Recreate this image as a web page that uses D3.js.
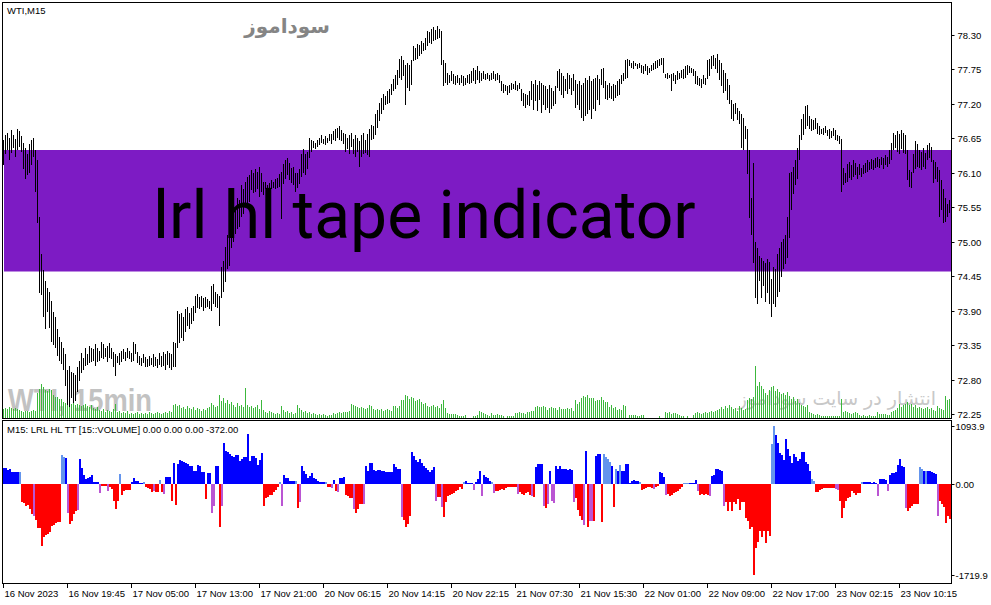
<!DOCTYPE html>
<html>
<head>
<meta charset="utf-8">
<script src="https://cdn.jsdelivr.net/npm/d3@7"></script>
<style>
  body { margin: 0; background: #fff; }
  text { font-family: "Liberation Sans", Arial, sans-serif; }
</style>
</head>
<body>
<div id="chart"></div>
<script>
// WTI M15 bars, one entry per 15 min bar (474 bars, 2px apart)
const highs = [
  76.62,76.70,76.74,76.66,76.78,76.70,76.64,76.80,76.76,76.68,
  76.58,76.50,76.40,76.56,76.62,76.66,76.46,76.30,75.40,74.80,
  74.55,74.38,74.26,74.20,74.05,73.88,73.80,73.60,73.48,73.40,
  73.30,73.20,72.95,73.02,72.92,72.90,72.88,73.00,73.10,73.22,
  73.14,73.30,73.20,73.34,73.30,73.28,73.36,73.30,73.26,73.40,
  73.36,73.30,73.34,73.38,73.30,73.24,73.20,73.18,73.22,73.26,
  73.28,73.24,73.30,73.26,73.22,73.40,73.36,73.24,73.18,73.14,
  73.20,73.16,73.12,73.18,73.14,73.20,73.16,73.12,73.22,73.18,
  73.24,73.20,73.26,73.22,73.20,73.40,73.38,73.90,73.84,73.86,
  73.80,73.92,73.96,73.86,73.94,73.98,74.14,74.16,74.12,74.14,
  74.10,74.12,74.08,74.06,74.30,74.32,74.20,74.16,74.14,74.60,
  74.70,74.92,75.10,75.26,75.50,75.60,75.50,75.70,75.66,75.90,
  75.84,75.96,76.04,76.06,76.14,76.10,76.16,76.12,76.20,76.10,
  75.96,75.96,75.90,75.94,75.98,75.96,76.00,76.02,76.08,76.12,
  76.24,76.30,76.34,76.26,76.18,76.20,76.10,76.10,76.16,76.40,
  76.48,76.40,76.44,76.66,76.62,76.60,76.58,76.62,76.66,76.70,
  76.64,76.68,76.66,76.72,76.72,76.76,76.80,76.82,76.84,76.78,
  76.74,76.72,76.66,76.70,76.74,76.64,76.70,76.66,76.60,76.70,
  76.74,76.62,76.72,76.80,76.86,76.84,77.04,77.10,77.22,77.30,
  77.36,77.32,77.40,77.44,77.52,77.60,77.66,77.74,77.92,77.96,
  77.90,77.82,77.86,77.82,77.90,78.12,78.10,78.16,78.14,78.20,
  78.18,78.26,78.36,78.34,78.40,78.42,78.38,78.44,78.40,78.36,
  77.90,77.86,77.70,77.66,77.72,77.68,77.64,77.66,77.62,77.66,
  77.64,77.62,77.66,77.68,77.72,77.78,77.74,77.80,77.72,77.70,
  77.72,77.68,77.70,77.66,77.70,77.72,77.68,77.70,77.66,77.56,
  77.52,77.50,77.48,77.50,77.54,77.52,77.56,77.50,77.54,77.44,
  77.38,77.36,77.34,77.40,77.56,77.52,77.58,77.50,77.56,77.54,
  77.50,77.48,77.44,77.50,77.46,77.40,77.48,77.72,77.76,77.70,
  77.64,77.60,77.70,77.66,77.62,77.68,77.58,77.52,77.56,77.50,
  77.54,77.62,77.58,77.64,77.56,77.60,77.62,77.66,77.60,77.76,
  77.78,77.56,77.50,77.54,77.48,77.52,77.50,77.56,77.60,77.66,
  77.70,77.90,77.92,77.90,77.86,77.88,77.86,77.84,77.86,77.82,
  77.80,77.84,77.80,77.78,77.82,77.86,77.88,77.90,77.92,77.94,
  77.94,77.68,77.70,77.66,77.68,77.70,77.66,77.72,77.70,77.74,
  77.76,77.80,77.82,77.80,77.78,77.76,77.72,77.64,77.62,77.60,
  77.66,77.62,77.90,77.92,77.96,77.98,77.94,78.00,77.90,77.86,
  77.74,77.70,77.60,77.50,77.26,77.20,77.22,77.14,77.08,77.04,
  76.98,76.84,76.80,76.46,75.70,76.26,75.00,74.90,74.78,74.74,
  74.70,74.66,74.72,74.68,74.40,74.60,74.56,74.80,74.90,75.00,
  75.04,75.10,75.40,76.10,76.12,76.20,76.30,76.50,76.70,76.96,
  77.04,77.16,77.18,77.00,76.96,76.94,76.98,76.90,76.84,76.80,
  76.82,76.84,76.78,76.80,76.76,76.82,76.78,76.70,76.68,76.64,
  76.18,76.10,76.24,76.28,76.22,76.30,76.26,76.20,76.24,76.18,
  76.22,76.26,76.30,76.28,76.32,76.30,76.34,76.36,76.32,76.36,
  76.34,76.38,76.36,76.46,76.58,76.74,76.70,76.76,76.72,76.78,
  76.74,76.70,76.46,76.14,76.12,76.40,76.60,76.56,76.46,76.44,
  76.50,76.42,76.54,76.58,76.52,76.30,76.28,76.20,76.14,75.98,
  75.84,75.70,75.60,75.66
];
const lows = [
  76.22,76.40,76.46,76.30,76.42,76.50,76.36,76.46,76.52,76.44,
  76.16,76.00,76.06,76.10,76.22,76.36,75.80,75.30,74.18,74.15,
  73.80,73.60,73.88,73.62,73.40,73.35,73.30,73.18,73.10,73.05,
  72.95,72.70,72.40,72.36,72.50,72.42,72.45,72.60,72.78,72.90,
  72.96,73.02,73.04,73.06,73.08,73.10,73.02,73.08,73.10,73.14,
  73.12,73.16,73.08,73.14,73.12,73.00,72.86,73.06,73.04,73.08,
  73.12,73.10,73.14,73.12,73.08,73.10,73.20,73.06,73.04,73.02,
  73.06,73.00,73.00,73.02,73.04,73.00,73.02,72.98,73.04,73.00,
  73.02,72.96,73.04,72.98,72.96,73.00,73.00,73.30,73.38,73.46,
  73.42,73.56,73.66,73.60,73.68,73.74,73.86,73.94,73.92,73.96,
  73.90,73.94,73.96,73.92,73.90,74.00,73.96,73.94,73.65,74.10,
  74.20,74.36,74.56,74.62,74.90,75.00,75.12,75.20,75.24,75.40,
  75.44,75.56,75.60,75.64,75.82,75.78,75.80,75.84,75.72,75.80,
  75.74,75.84,75.80,75.82,75.84,75.86,75.84,75.86,75.88,75.36,
  75.92,76.00,76.06,75.98,75.94,75.90,75.80,75.86,75.92,76.04,
  76.10,76.06,76.16,76.34,76.44,76.50,76.48,76.52,76.54,76.58,
  76.56,76.54,76.58,76.60,76.56,76.62,76.60,76.66,76.62,76.60,
  76.56,76.44,76.48,76.40,76.52,76.40,76.36,76.44,76.20,76.36,
  76.40,76.42,76.38,76.36,76.62,76.64,76.70,76.82,76.92,77.04,
  77.10,77.18,77.20,77.22,77.34,77.40,77.44,77.50,77.62,77.58,
  77.64,77.18,77.46,77.40,77.50,77.88,77.90,77.92,77.96,78.00,
  78.04,78.06,78.12,78.18,78.16,78.20,78.22,78.24,78.26,77.82,
  77.48,77.54,77.50,77.54,77.56,77.52,77.50,77.54,77.50,77.54,
  77.48,77.50,77.54,77.52,77.54,77.56,77.52,77.58,77.54,77.56,
  77.60,77.58,77.60,77.56,77.58,77.60,77.56,77.58,77.54,77.40,
  77.38,77.40,77.34,77.38,77.42,77.44,77.42,77.40,77.44,77.24,
  77.16,77.14,77.18,77.16,77.26,77.10,77.24,77.08,77.26,77.06,
  77.18,77.10,77.14,77.06,77.12,77.16,77.20,77.46,77.40,77.34,
  77.30,77.40,77.36,77.44,77.34,77.40,77.14,77.18,77.10,76.98,
  76.92,77.00,77.04,77.10,76.96,77.12,77.08,77.26,77.18,77.50,
  77.46,77.28,77.26,77.30,77.28,77.24,77.30,77.32,77.34,77.52,
  77.56,77.60,77.62,77.80,77.78,77.76,77.80,77.76,77.78,77.70,
  77.68,77.72,77.66,77.70,77.72,77.74,77.76,77.78,77.80,77.82,
  77.70,77.62,77.60,77.62,77.40,77.56,77.52,77.58,77.60,77.62,
  77.60,77.62,77.66,77.70,77.70,77.64,77.52,77.50,77.48,77.46,
  77.52,77.50,77.60,77.64,77.76,77.80,77.76,77.70,77.58,77.48,
  77.38,77.40,77.26,77.20,76.96,76.92,77.04,76.94,76.88,76.50,
  76.46,76.64,76.08,75.38,75.10,74.66,74.10,74.00,74.38,74.10,
  74.30,74.04,74.18,74.00,73.80,74.00,73.96,74.12,74.20,74.44,
  74.56,74.64,74.74,75.06,75.50,75.76,75.90,76.00,76.30,76.62,
  76.70,76.80,76.84,76.80,76.76,76.78,76.80,76.72,76.70,76.72,
  76.70,76.74,76.68,76.64,76.66,76.68,76.62,76.60,76.56,75.80,
  75.90,75.94,75.96,76.02,75.98,76.04,76.06,76.00,76.06,76.04,
  76.08,76.10,76.12,76.14,76.16,76.14,76.18,76.20,76.18,76.22,
  76.16,76.22,76.20,76.24,76.30,76.46,76.50,76.44,76.40,76.48,
  76.42,76.40,75.98,75.88,75.86,76.10,76.16,76.20,76.18,76.14,
  76.20,76.16,76.30,76.34,76.28,75.94,76.00,75.96,75.40,75.50,
  75.30,75.32,75.40,75.46
];
// tick volume per bar
const volumes = [
  520,560,480,600,540,500,580,520,460,380,
  340,360,400,320,360,420,380,1440,1680,1980,
  1800,1620,1560,1680,1620,1320,1200,1200,1080,1080,
  900,840,960,900,780,840,720,780,720,660,
  720,780,660,600,720,540,480,600,420,360,
  480,300,420,360,300,480,780,300,360,240,
  300,240,360,180,240,180,240,300,180,240,
  180,240,180,300,240,180,240,300,240,180,
  240,300,240,360,300,720,780,660,720,540,
  600,480,660,540,480,600,420,540,480,360,
  480,420,540,600,840,720,600,660,1320,960,
  1140,840,1020,780,900,720,600,840,660,720,
  600,1740,720,600,660,540,600,720,480,1020,
  420,300,240,360,300,240,180,240,180,660,
  420,300,360,240,300,180,240,720,540,420,
  300,360,240,300,180,240,180,120,180,120,
  180,120,60,120,120,240,180,240,300,240,
  300,300,300,360,780,720,660,600,540,600,
  540,480,540,720,660,480,420,480,420,480,
  360,420,480,420,360,660,660,540,660,1020,
  1020,1320,1260,1080,1200,1140,960,1020,1080,900,
  780,840,660,600,660,720,600,660,540,780,
  1020,540,240,180,180,180,180,120,60,60,
  60,120,0,0,0,60,60,120,360,300,
  240,180,120,60,240,120,120,180,120,120,
  60,0,60,60,60,60,240,240,300,240,
  240,180,300,300,360,360,600,660,600,600,
  660,600,420,540,600,540,540,420,600,480,
  480,480,540,480,540,360,1020,780,900,1140,
  1260,1200,1320,1140,1140,1140,960,1020,1020,1200,
  1020,900,900,600,720,540,600,420,480,420,
  720,660,0,120,120,120,120,60,60,120,
  120,0,0,0,0,0,0,0,60,0,
  0,300,240,300,180,240,240,180,120,60,
  60,0,60,0,0,120,240,300,240,180,
  240,300,240,300,360,300,360,420,480,600,
  480,660,540,720,600,480,540,360,660,540,
  420,480,1020,1140,1080,1200,3060,1860,2100,1860,
  1680,1440,1320,1620,1800,1860,1560,1680,1500,1380,
  1440,1320,1500,1260,1080,1200,960,1080,840,720,
  660,600,720,300,240,180,120,180,120,60,
  60,60,60,60,60,60,60,60,60,1080,
  300,360,300,240,180,240,300,240,120,60,
  120,60,60,120,60,60,60,300,180,180,
  180,180,120,120,300,360,420,540,780,600,
  720,780,900,720,780,600,720,540,600,540,
  480,540,600,480,540,420,360,660,540,480,
  420,1260,1020,1080
];
// LRL HL TT histogram value per bar
const tapeValues = [
  300,300,260,280,220,230,230,220,220,-340,
  -360,-420,-400,-470,-560,-600,-690,-830,-840,-1180,
  -1000,-960,-940,-900,-790,-770,-730,-720,-720,540,
  500,490,-540,-760,-700,-560,-520,-500,470,300,
  160,100,110,140,160,40,35,30,-176,-40,
  -40,-40,-140,-50,-90,-320,-470,-315,190,-200,
  -130,-115,-115,-115,30,110,60,50,20,20,
  30,-60,-70,-95,-157,-126,-157,-157,75,-157,
  -190,140,140,140,-330,400,-390,380,450,440,
  410,390,380,330,330,240,240,350,340,220,
  220,-283,200,200,-550,-410,346,346,-805,-410,
  770,630,600,560,520,510,550,540,440,470,
  500,500,940,440,520,535,490,365,450,580,
  -410,-260,-240,-210,-200,-150,-110,-60,30,-410,
  176,113,113,60,60,50,50,-460,-346,346,
  250,190,113,150,200,110,94,60,40,30,
  30,30,-60,-60,-80,75,-126,-157,113,120,
  138,-200,-230,-264,-264,-470,-554,-470,-380,-380,
  -378,346,250,400,390,265,250,265,265,250,
  240,220,220,230,220,377,320,280,283,-617,
  -690,-805,-755,-600,610,530,450,410,470,390,
  346,300,265,220,265,315,-315,-250,-250,-440,
  -617,-346,-220,-200,-190,-170,-140,-110,-60,-95,
  40,60,15,15,15,-107,30,94,240,-220,
  160,130,113,60,30,-176,-140,-140,-120,-95,
  -110,-80,-60,-60,-60,-60,-60,-190,-157,-190,
  -200,-170,-160,-200,-220,-240,327,380,380,380,
  -410,-453,-378,240,-330,-360,330,283,330,283,
  283,283,265,280,265,-346,-264,-490,-600,-680,
  -767,629,-805,-692,-692,-692,535,566,566,-723,
  566,500,480,420,340,-440,280,250,360,250,
  250,370,370,20,60,75,60,60,40,-115,
  -100,-70,-60,-60,-70,-90,-50,-40,220,200,
  126,-200,-190,-220,-200,-180,-160,-130,-100,-60,
  15,15,15,15,15,25,75,-140,-200,-190,
  -200,-190,-200,-230,157,160,283,290,260,250,
  -410,-346,-516,-346,-516,-346,-380,-283,-500,-346,
  -346,-640,-700,-850,-805,-1719.9,-1214,-1100,-880,-1000,
  -880,-1120,-880,-975,755,1093.9,930,770,580,550,
  453,850,660,535,390,566,516,430,480,600,
  610,420,377,250,94,60,-157,-157,-120,-100,
  -80,-80,-80,-80,-80,-80,-95,-110,-315,-650,
  -453,-330,-260,-250,-130,-176,-200,-176,-180,44,
  30,40,44,30,25,30,25,-233,94,94,
  90,80,-126,160,200,210,230,350,472,340,
  315,-453,-516,-453,-420,-378,-378,-378,315,280,
  250,250,240,240,230,200,180,-600,-315,-378,
  -430,-743,-600,-660
];
// buffer of each histogram bar: B up, L up (weak), R down, V down (weak)
const tapeKinds = (
  "BBBBBBBBLR" + "RRRRRVRRRR" + "RRRRRRRRRL" + "LBVRRRRVBB" + "BBBBBBBBVR" +
  "RRVRRRRRLR" + "RRRRBBBBBB" + "LRRRRVRRLR" + "VBBBRBRBBB" + "BBBBBBBBBB" +
  "BRBBVVBBRV" + "BBBBBBBBBB" + "BBBBBBBBBB" + "RRRRRRRRLV" + "BBBBBBLRVB" +
  "BBBBBBBBBB" + "BLRRVBRVBB" + "BRRRRVRRRR" + "VBBBBBBBBB" + "BBBBBBBBBV" +
  "RRRRBBBBBB" + "BBBBBBVRRV" + "RRRRRRRRRR" + "LBBBBVBBBV" + "BBBBLVRRRR" +
  "RRRRRRRVRR" + "RRRRVRBBBB" + "VRVBVVBBBB" + "BBBBBVRRRR" + "VBRVVRBBBR" +
  "LLLLBRLBLB" + "BBBBBBBBLR" + "RRRRRVRRBB" + "BVRRRRRRRR" + "LLLBBBBVRR" +
  "RRRVBBBBBB" + "VRRRRRRRRR" + "RRRRRRRRRR" + "RRRRLLBBBB" + "BBBBBBBBBB" +
  "BBBBLLRRRR" + "RRRRRRVVRR" + "RRRRRRRRRL" + "BBBBBBBVBB" + "BBVBBBBBBB" +
  "BVRRRRRRLL" + "BLBBBBBVRR" + "RRRR").split("");

const timeLabels = ["16 Nov 2023", "16 Nov 19:45", "17 Nov 05:00", "17 Nov 13:00", "17 Nov 21:00",
  "20 Nov 06:15", "20 Nov 14:15", "20 Nov 22:15", "21 Nov 07:30", "21 Nov 15:30",
  "22 Nov 01:00", "22 Nov 09:00", "22 Nov 17:00", "23 Nov 02:15", "23 Nov 10:15"];
const priceTicks = [72.25, 72.80, 73.35, 73.90, 74.45, 75.00, 75.55, 76.10, 76.65, 77.20, 77.75, 78.30];
const tapeTicks = [1093.9, 0, -1719.9];

const width = 991, height = 605;
const left = 2, right = 951;
const barsPerLabel = 32;
const kindColor = { B: "#0000ff", L: "#6495ed", R: "#ff0000", V: "#ba55d3" };

const n = Math.min(highs.length, lows.length, volumes.length, tapeValues.length, tapeKinds.length);
const idx = d3.range(n);

let svg = d3.select("#chart").append("svg")
  .attr("width", width)
  .attr("height", height)
  .style("display", "block");

// scales
let x = d3.scaleLinear().domain([0, 473]).range([3, 949]);
let yPrice = d3.scaleLinear().domain([72.25, 78.30]).range([414, 35]);
let yVol = d3.scaleLinear().domain([0, 3200]).range([417.5, 364]);
let yTape = d3.scaleLinear().domain([-1719.9, 1093.9]).range([575, 426]);

// watermarks behind the bars
svg.append("text")
  .attr("x", 8).attr("y", 411)
  .attr("textLength", 144).attr("lengthAdjust", "spacingAndGlyphs")
  .style("font-family", "'Liberation Sans', Arial, sans-serif")
  .style("font-weight", "bold").style("font-size", "32px")
  .attr("fill", "#c2c2c2")
  .text("WTI, 15min");

svg.append("text")
  .attr("x", 936).attr("y", 405)
  .attr("text-anchor", "end")
  .style("font-family", "'DejaVu Sans', sans-serif")
  .style("font-size", "19px")
  .attr("fill", "#c8c8c8")
  .text("انتشار در سایت سوداموز");

svg.append("text")
  .attr("x", 330).attr("y", 33)
  .attr("text-anchor", "end")
  .style("font-family", "'DejaVu Sans', sans-serif")
  .style("font-weight", "bold").style("font-size", "20px")
  .attr("fill", "#858585")
  .text("سوداموز");

// volumes
svg.append("g").selectAll("rect")
  .data(idx.filter(i => volumes[i] > 0))
  .join("rect")
  .attr("x", i => x(i))
  .attr("width", 1)
  .attr("y", i => yVol(volumes[i]))
  .attr("height", i => yVol(0) - yVol(volumes[i]))
  .attr("fill", "#3cb83c")
  .attr("shape-rendering", "crispEdges");

// banner
svg.append("rect")
  .attr("x", 4).attr("y", 150)
  .attr("width", right - 4).attr("height", 121.5)
  .attr("fill", "#7d1bc4");

// price bars (high-low)
svg.append("g").selectAll("line")
  .data(idx)
  .join("line")
  .attr("x1", i => x(i) + 0.5)
  .attr("x2", i => x(i) + 0.5)
  .attr("y1", i => yPrice(highs[i]))
  .attr("y2", i => yPrice(lows[i]))
  .attr("stroke", "#000")
  .attr("stroke-width", 1)
  .attr("shape-rendering", "crispEdges");

svg.append("text")
  .attr("x", 153).attr("y", 238)
  .style("font-family", "Roboto, 'Liberation Sans', sans-serif")
  .style("font-size", "66px")
  .attr("fill", "#000")
  .text("lrl hl tape indicator");

// histogram
svg.append("g").selectAll("rect")
  .data(idx)
  .join("rect")
  .attr("x", i => x(i))
  .attr("width", 2)
  .attr("y", i => Math.min(yTape(0), yTape(tapeValues[i])))
  .attr("height", i => Math.abs(yTape(tapeValues[i]) - yTape(0)))
  .attr("fill", i => kindColor[tapeKinds[i]])
  .attr("shape-rendering", "crispEdges");

// frames
svg.append("rect")
  .attr("x", left + 0.5).attr("y", 2.5)
  .attr("width", right - left).attr("height", 416)
  .attr("fill", "none").attr("stroke", "#000");
svg.append("rect")
  .attr("x", left + 0.5).attr("y", 420.5)
  .attr("width", right - left).attr("height", 163)
  .attr("fill", "none").attr("stroke", "#000");

// price axis
let priceAxis = svg.append("g").selectAll("g")
  .data(priceTicks)
  .join("g")
  .attr("transform", d => `translate(${right + 0.5},${Math.round(yPrice(d)) + 0.5})`);
priceAxis.append("line").attr("x2", 3).attr("stroke", "#000");
priceAxis.append("text")
  .attr("x", 6).attr("dy", "0.35em")
  .style("font-size", "9.5px").attr("fill", "#000")
  .text(d => d.toFixed(2));

let tapeAxis = svg.append("g").selectAll("g")
  .data(tapeTicks)
  .join("g")
  .attr("transform", d => `translate(${right + 0.5},${Math.round(yTape(d)) + 0.5})`);
tapeAxis.append("line").attr("x2", 3).attr("stroke", "#000");
tapeAxis.append("text")
  .attr("x", 4).attr("dy", "0.35em")
  .style("font-size", "9.5px").attr("fill", "#000")
  .text(d => d === 0 ? "0.00" : d.toFixed(1));

// time axis
let timeAxis = svg.append("g").selectAll("g")
  .data(timeLabels)
  .join("g")
  .attr("transform", (d, k) => `translate(${x(k * barsPerLabel) + 0.5},584)`);
timeAxis.append("line").attr("y2", 4).attr("stroke", "#000");
timeAxis.append("text")
  .attr("x", 1).attr("y", 13)
  .style("font-size", "9.5px").attr("fill", "#000")
  .text(d => d);

// panel titles
svg.append("text")
  .attr("x", 7).attr("y", 14)
  .style("font-size", "9.5px").attr("fill", "#000")
  .text("WTI,M15");
svg.append("text")
  .attr("x", 7).attr("y", 433)
  .style("font-size", "9.5px").attr("fill", "#000")
  .text("M15: LRL HL TT [15::VOLUME] 0.00 0.00 0.00 -372.00");
</script>
</body>
</html>
